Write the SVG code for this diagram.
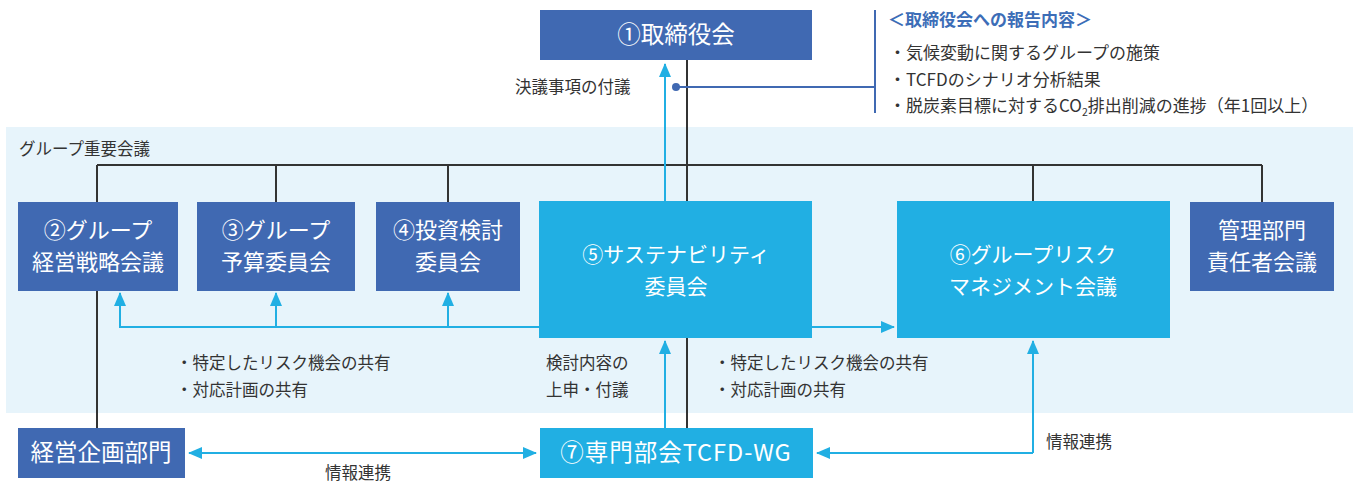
<svg xmlns="http://www.w3.org/2000/svg" width="1357" height="487" viewBox="0 0 1357 487">
<style>
text{font-family:"Noto Sans CJK JP","Noto Sans",sans-serif;}
.dk{fill:#4069b2;}
.lt{fill:#21afe3;}
.bt{fill:#ffffff;font-size:22px;text-anchor:middle;}
.bt2{fill:#ffffff;font-size:21px;text-anchor:middle;}
.bt3{fill:#ffffff;font-size:23.5px;text-anchor:middle;}
.sm{fill:#333333;font-size:16.5px;}
.rp{fill:#333333;font-size:17px;}
.blk{stroke:#333333;stroke-width:2;fill:none;}
.blu{stroke:#21afe3;stroke-width:2;fill:none;}
.ttl{fill:#3c6db7;font-size:17px;font-weight:bold;}
</style>
<defs>
<marker id="ah" markerUnits="userSpaceOnUse" markerWidth="14" markerHeight="14" viewBox="0 0 14 12" refX="13" refY="6" orient="auto-start-reverse">
<path d="M0,0 L14,6 L0,12 Z" fill="#21afe3"/>
</marker>
</defs>
<rect x="6" y="127" width="1347" height="286" fill="#e7f4fb"/>
<text class="sm" x="19" y="155">グループ重要会議</text>
<g id="connectors">
<path class="blk" d="M97,165 H1262 M97,165 V428 M276,165 V202 M448,165 V202 M687,60 V428 M1033,165 V201 M1262,165 V202"/>
<path class="blu" d="M665,201 V64" marker-end="url(#ah)"/>
<path class="blu" d="M539,327 H120 V293" marker-end="url(#ah)"/>
<path class="blu" d="M276,327 V293" marker-end="url(#ah)"/>
<path class="blu" d="M448,327 V293" marker-end="url(#ah)"/>
<path class="blu" d="M812,327 H894" marker-end="url(#ah)"/>
<path class="blu" d="M665,428 V341" marker-end="url(#ah)"/>
<path class="blu" d="M189,453 H536" marker-start="url(#ah)" marker-end="url(#ah)"/>
<path class="blu" d="M1033,453 V341" marker-end="url(#ah)"/>
<path class="blu" d="M1033,453 H817" marker-end="url(#ah)"/>
<path d="M676,87 H875 M875,10 V113" stroke="#4069b2" stroke-width="2" fill="none"/>
<circle cx="676" cy="87" r="4" fill="#4069b2"/>
</g>
<g id="n1"><rect class="dk" x="540" y="10" width="272" height="50"/><text class="bt" x="676" y="43" style="font-size:23.5px">①取締役会</text></g>
<g id="n2"><rect class="dk" x="18" y="202" width="160" height="89"/><text class="bt" x="98" y="238">②グループ</text><text class="bt" x="98" y="270">経営戦略会議</text></g>
<g id="n3"><rect class="dk" x="197" y="202" width="158" height="89"/><text class="bt" x="276" y="238">③グループ</text><text class="bt" x="276" y="270">予算委員会</text></g>
<g id="n4"><rect class="dk" x="376" y="202" width="144" height="89"/><text class="bt" x="448" y="238">④投資検討</text><text class="bt" x="448" y="270">委員会</text></g>
<g id="n5"><rect class="lt" x="539" y="201" width="273" height="137"/><text class="bt2" x="676" y="262">⑤サステナビリティ</text><text class="bt2" x="676" y="294">委員会</text></g>
<g id="n6"><rect class="lt" x="897" y="201" width="273" height="137"/><text class="bt2" x="1033" y="262">⑥グループリスク</text><text class="bt2" x="1033" y="294">マネジメント会議</text></g>
<g id="n7"><rect class="dk" x="1190" y="202" width="144" height="89"/><text class="bt" x="1262" y="238">管理部門</text><text class="bt" x="1262" y="270">責任者会議</text></g>
<g id="n8"><rect class="dk" x="18" y="428" width="167" height="50"/><text class="bt3" x="101" y="461">経営企画部門</text></g>
<g id="n9"><rect class="lt" x="540" y="428" width="273" height="50"/><text class="bt3" x="676" y="461" letter-spacing="1">⑦専門部会TCFD-WG</text></g>
<g id="labels">
<text class="sm" x="515" y="93">決議事項の付議</text>
<text class="ttl" x="888" y="26">＜取締役会への報告内容＞</text>
<text class="rp" x="889" y="59">・気候変動に関するグループの施策</text>
<text class="rp" x="889" y="86">・TCFDのシナリオ分析結果</text>
<text class="rp" x="889" y="112">・脱炭素目標に対するCO<tspan font-size="10.5" dy="4">2</tspan><tspan dy="-4">排出削減の進捗（年1回以上）</tspan></text>
<text class="sm" x="176" y="369">・特定したリスク機会の共有</text>
<text class="sm" x="176" y="396">・対応計画の共有</text>
<text class="sm" x="546" y="369">検討内容の</text>
<text class="sm" x="546" y="396">上申・付議</text>
<text class="sm" x="714" y="369">・特定したリスク機会の共有</text>
<text class="sm" x="714" y="396">・対応計画の共有</text>
<text class="sm" x="325" y="479">情報連携</text>
<text class="sm" x="1046" y="448">情報連携</text>
</g>
</svg>
